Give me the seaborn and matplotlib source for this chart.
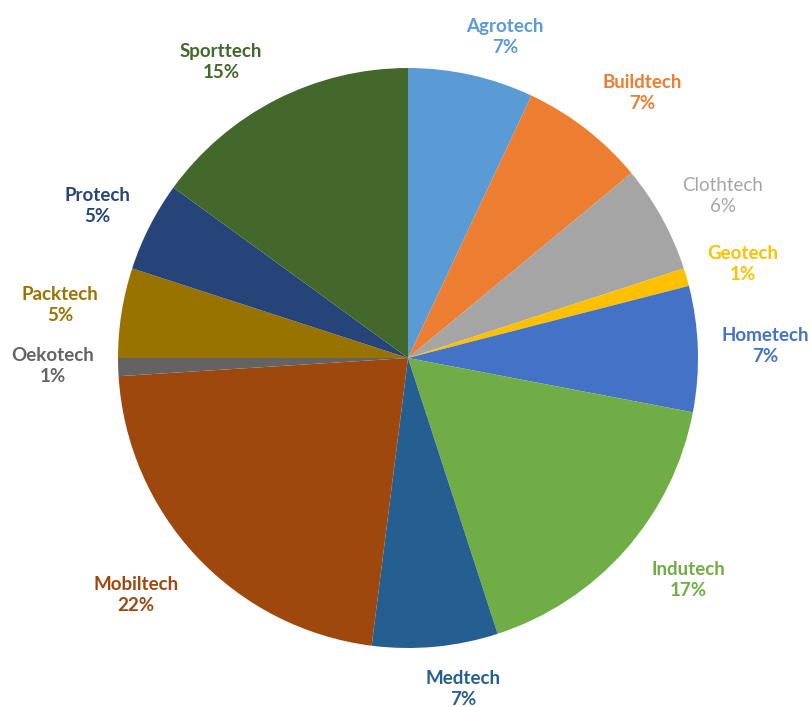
import matplotlib
matplotlib.use("Agg")
import matplotlib.pyplot as plt
import seaborn as sns

# Share of each technical textile application area (percent)
categories = ["Agrotech", "Buildtech", "Clothtech", "Geotech", "Hometech",
              "Indutech", "Medtech", "Mobiltech", "Oekotech", "Packtech",
              "Protech", "Sporttech"]
shares = [7, 7, 6, 1, 7, 17, 7, 22, 1, 5, 5, 15]

colors = ["#5B9BD5", "#ED7D31", "#A5A5A5", "#FFC000", "#4472C4",
          "#70AD47", "#255E91", "#9E480E", "#636363", "#997300",
          "#264478", "#43682B"]

# Label anchor points in figure pixels (x, y from top), one per slice
label_px = [(505, 37), (642, 93), (723, 196), (743, 264), (765, 346),
            (688, 580), (463, 689), (136, 595), (53, 366), (60, 305),
            (97, 206), (221, 62)]
label_weight = ["bold", "bold", "normal", "bold", "bold", "bold", "bold",
                "bold", "bold", "bold", "bold", "bold"]

sns.set_theme(style="white")
plt.rcParams["font.family"] = ["Lato", "DejaVu Sans"]

W, H = 812, 707
cx, cy, r = 408, 358, 290
fig = plt.figure(figsize=(W / 100, H / 100), dpi=100)
ax = fig.add_axes([(cx - r) / W, (H - cy - r) / H, 2 * r / W, 2 * r / H])

ax.pie(shares, colors=colors, startangle=90, counterclock=False,
       radius=1.0, wedgeprops=dict(linewidth=0))
ax.set_xlim(-1, 1)
ax.set_ylim(-1, 1)
ax.set_aspect("equal")
ax.axis("off")

for name, val, col, wt, (px, py) in zip(categories, shares, colors,
                                        label_weight, label_px):
    ax.text((px - cx) / r, (cy - py) / r, f"{name}\n{val}%",
            ha="center", va="center", color=col, fontsize=13.5,
            fontweight=wt, linespacing=1.33, clip_on=False)

fig.savefig("out.png", dpi=100, facecolor="white")
